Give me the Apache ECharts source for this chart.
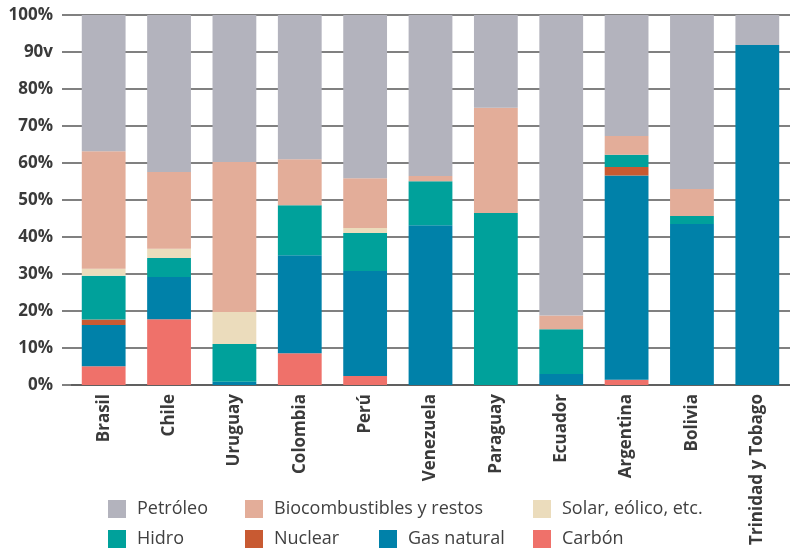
<!DOCTYPE html>
<html>
<head>
<meta charset="utf-8" />
<title>Matriz energética</title>
<script src="https://cdn.jsdelivr.net/npm/echarts@6/dist/echarts.min.js"></script>
<style>
  html, body { margin: 0; padding: 0; background: #fff; }
  #chartmain { width: 790px; height: 549px; }
</style>
</head>
<body>
<div id="chartmain"></div>
<script type="text/javascript">
// paises (eje x)
var countries = ['Brasil', 'Chile', 'Uruguay', 'Colombia', 'Perú', 'Venezuela', 'Paraguay', 'Ecuador', 'Argentina', 'Bolivia', 'Trinidad y Tobago'];

// porcentajes por fuente, de abajo hacia arriba en la pila
var carbon   = [5.1, 17.8, 0, 8.6, 2.4, 0, 0, 0, 1.4, 0, 0];
var gas      = [11.1, 11.4, 0.9, 26.5, 28.4, 43.2, 0, 3.0, 55.2, 43.5, 91.9];
var nuclear  = [1.5, 0, 0, 0, 0, 0, 0, 0, 2.3, 0, 0];
var hidro    = [11.8, 5.1, 10.2, 13.5, 10.3, 11.9, 46.5, 12.1, 3.3, 2.2, 0];
var solar    = [1.9, 2.5, 8.6, 0, 1.3, 0, 0, 0, 0, 0, 0];
var bio      = [31.8, 20.8, 40.6, 12.4, 13.5, 1.4, 28.4, 3.7, 5.1, 7.3, 0];
var petroleo = [36.8, 42.4, 39.7, 39.0, 44.1, 43.5, 25.1, 81.2, 32.7, 47.0, 8.1];

// etiquetas del eje y (el original dice "90v")
var yTicks = [0, 10, 20, 30, 40, 50, 60, 70, 80, 90, 100];
var yTickLabels = ['0%', '10%', '20%', '30%', '40%', '50%', '60%', '70%', '80%', '90v', '100%'];

var seriesList = [
  { name: 'Carbón', data: carbon, color: '#ef716a' },
  { name: 'Gas natural', data: gas, color: '#0081a9' },
  { name: 'Nuclear', data: nuclear, color: '#c85a32' },
  { name: 'Hidro', data: hidro, color: '#00a19b' },
  { name: 'Solar, eólico, etc.', data: solar, color: '#ebdcbc' },
  { name: 'Biocombustibles y restos', data: bio, color: '#e3ad99' },
  { name: 'Petróleo', data: petroleo, color: '#b3b3bd' }
];

// posicion de cada entrada de la leyenda
var legendPos = {
  'Petróleo': [108, 500],
  'Biocombustibles y restos': [245, 500],
  'Solar, eólico, etc.': [533, 500],
  'Hidro': [108, 530],
  'Nuclear': [245, 530],
  'Gas natural': [379, 530],
  'Carbón': [533, 530]
};

var legends = [];
for (var k in legendPos) {
  legends.push({
    data: [k],
    left: legendPos[k][0],
    top: legendPos[k][1],
    padding: 0,
    icon: 'rect',
    itemWidth: 18,
    itemHeight: 18,
    selectedMode: false,
    textStyle: {
      fontFamily: 'Open Sans',
      fontSize: 18,
      color: '#404040',
      padding: [0, 0, 0, 6]
    }
  });
}

var option = {
  animation: false,
  textStyle: { fontFamily: 'Open Sans' },
  grid: { left: 71, right: -2, top: 15, bottom: 164 },
  legend: legends,
  xAxis: {
    type: 'category',
    data: countries,
    axisTick: { show: false },
    axisLine: { lineStyle: { color: '#606060', width: 2 } },
    axisLabel: {
      rotate: 90,
      interval: 0,
      margin: 9,
      fontFamily: 'Open Sans',
      fontWeight: 'bold',
      fontSize: 17,
      color: '#3a3a3a'
    }
  },
  yAxis: {
    type: 'value',
    min: 0,
    max: 100,
    interval: 10,
    axisLine: { show: false },
    axisTick: { show: true, length: 9, lineStyle: { color: '#808080', width: 2 } },
    splitLine: { lineStyle: { color: '#808080', width: 2 } },
    axisLabel: {
      margin: 18,
      fontFamily: 'Open Sans',
      fontWeight: 'bold',
      fontSize: 17,
      color: '#3a3a3a',
      formatter: function (v) {
        var i = yTicks.indexOf(v);
        return i > -1 ? yTickLabels[i] : v + '%';
      }
    }
  },
  series: seriesList.map(function (s) {
    return {
      name: s.name,
      type: 'bar',
      stack: 'total',
      data: s.data,
      barCategoryGap: '33%',
      itemStyle: { color: s.color }
    };
  })
};

var myChart = echarts.init(document.getElementById('chartmain'));
myChart.setOption(option);
</script>
</body>
</html>
